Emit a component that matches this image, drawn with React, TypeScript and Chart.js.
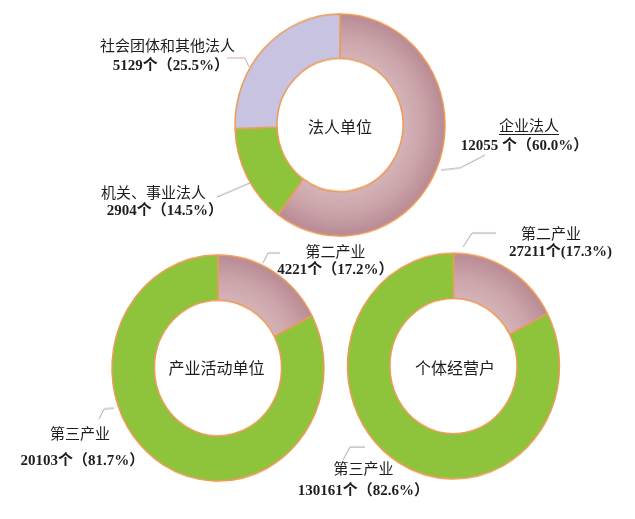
import React, { useEffect, useRef } from "react";
import { Chart, registerables } from "chart.js";

Chart.register(...registerables);

// ---------- data ----------
const titles = ["法人单位", "产业活动单位", "个体经营户"];

const legalCategories = ["企业法人", "机关、事业法人", "社会团体和其他法人"];
const legalValues = [12055, 2904, 5129];
const legalPercents = ["60.0", "14.5", "25.5"];

const industryCategories = ["第二产业", "第三产业"];
const unitValues = [4221, 20103];
const unitPercents = ["17.2", "81.7"];

const individualValues = [27211, 130161];
const individualPercents = ["17.3", "82.6"];

// ---------- styles / layout ----------
const W = 635;
const H = 519;
const MAUVE = "#c79ca3";
const GREEN = "#8ec43b";
const LAVENDER = "#c7c3e1";
const BORDER = "#ec9b57";

type Leader = { pts: number[][]; color: string };
type LabelPos = { name: [number, number]; num: [number, number]; fmt: string; underline?: boolean };

const charts = [
  {
    title: titles[0],
    labels: legalCategories,
    values: legalValues,
    percents: legalPercents,
    colors: ["mauve", GREEN, LAVENDER],
    cx: 340, cy: 125, rx: 105, sy: 1.057,
    titlePos: [340, 126],
    labelPos: [
      { name: [529, 125], num: [524.5, 145], fmt: "{v} 个（{p}%）", underline: true },
      { name: [153.5, 192], num: [165, 210], fmt: "{v}个（{p}%）" },
      { name: [167.5, 45], num: [171, 65], fmt: "{v}个（{p}%）" },
    ] as LabelPos[],
    leaders: [
      { pts: [[485, 155], [460, 168], [441, 170]], color: "#b9a3a7" },
      { pts: [[217, 197], [250, 183]], color: "#a5a5a5" },
      { pts: [[227, 58], [245, 58], [249, 67]], color: "#d6a3ad" },
    ] as Leader[],
  },
  {
    title: titles[1],
    labels: industryCategories,
    values: unitValues,
    percents: unitPercents,
    colors: ["mauve", GREEN],
    cx: 218, cy: 368, rx: 106, sy: 1.066,
    titlePos: [216.5, 367],
    labelPos: [
      { name: [335.5, 251], num: [335.5, 269], fmt: "{v}个（{p}%）" },
      { name: [80, 433], num: [82.5, 460], fmt: "{v}个（{p}%）" },
    ] as LabelPos[],
    leaders: [
      { pts: [[280, 253], [268, 253], [263, 263]], color: "#a8a8a8" },
      { pts: [[99, 419], [104, 409], [114, 408]], color: "#a8a8a8" },
    ] as Leader[],
  },
  {
    title: titles[2],
    labels: industryCategories,
    values: individualValues,
    percents: individualPercents,
    colors: ["mauve", GREEN],
    cx: 453.5, cy: 366, rx: 106, sy: 1.064,
    titlePos: [455, 367],
    labelPos: [
      { name: [551, 233], num: [560.5, 251], fmt: "{v}个({p}%)" },
      { name: [363.5, 468], num: [363.5, 490], fmt: "{v}个（{p}%）" },
    ] as LabelPos[],
    leaders: [
      { pts: [[496, 233], [472, 233], [463, 247]], color: "#a8a8a8" },
      { pts: [[343, 460], [350, 447], [365, 447]], color: "#a8a8a8" },
    ] as Leader[],
  },
];

const CN_FONT = '"Noto Sans CJK SC", "Noto Sans", sans-serif';
const NUM_FONT = '"Liberation Serif", "Noto Sans CJK SC", serif';

function Donut({ cfg }: { cfg: (typeof charts)[number] }) {
  const ref = useRef<HTMLCanvasElement | null>(null);
  useEffect(() => {
    if (!ref.current) return;
    const { cx, cy, rx, sy } = cfg;
    const box = 100;
    const leaderPlugin = {
      id: "leaders",
      afterDraw(chart: any) {
        const ctx = chart.ctx;
        ctx.save();
        ctx.lineWidth = 1;
        cfg.leaders.forEach((l) => {
          ctx.strokeStyle = l.color;
          ctx.beginPath();
          l.pts.forEach((p, i) => {
            const x = p[0];
            const y = cy + (p[1] - cy) / sy;
            if (i === 0) ctx.moveTo(x, y);
            else ctx.lineTo(x, y);
          });
          ctx.stroke();
        });
        ctx.restore();
      },
    };
    const bg = (c: any) => {
      const col = cfg.colors[c.dataIndex];
      if (col !== "mauve") return col;
      const ch = c.chart;
      const area = ch.chartArea;
      if (!area) return MAUVE;
      const x = (area.left + area.right) / 2;
      const y = (area.top + area.bottom) / 2;
      const g = ch.ctx.createRadialGradient(x, y, rx * 0.58, x, y, rx);
      g.addColorStop(0, "#d5b5b9");
      g.addColorStop(0.5, "#cba4aa");
      g.addColorStop(1, "#b98b94");
      return g;
    };
    const chart = new Chart(ref.current, {
      type: "doughnut",
      data: {
        labels: cfg.labels,
        datasets: [
          {
            data: cfg.values,
            backgroundColor: bg,
            borderColor: BORDER,
            borderWidth: 1.5,
          },
        ],
      },
      options: {
        responsive: false,
        maintainAspectRatio: false,
        animation: false,
        events: [],
        radius: rx,
        cutout: "60%",
        layout: {
          padding: {
            left: cx - box,
            right: W - cx - box,
            top: cy - box,
            bottom: H - cy - box,
          },
        },
        plugins: {
          legend: { display: false },
          tooltip: { enabled: false },
        },
      } as any,
      plugins: [leaderPlugin],
    });
    return () => chart.destroy();
  }, [cfg]);
  return (
    <canvas
      ref={ref}
      width={W}
      height={H}
      style={{
        position: "absolute",
        left: 0,
        top: 0,
        width: W,
        height: H,
        transform: `scaleY(${cfg.sy})`,
        transformOrigin: `${cfg.cx}px ${cfg.cy}px`,
        pointerEvents: "none",
      }}
    />
  );
}

function TextLine({
  x, y, text, font, weight, size, underline,
}: {
  x: number; y: number; text: string; font: string; weight?: number; size: number; underline?: boolean;
}) {
  return (
    <div
      style={{
        position: "absolute",
        left: x - 150,
        top: y - 11,
        width: 300,
        height: 22,
        lineHeight: "22px",
        textAlign: "center",
        whiteSpace: "nowrap",
        fontFamily: font,
        fontSize: size,
        fontWeight: weight ?? 400,
        color: "#1e1e1e",
      }}
    >
      <span style={{ textDecoration: underline ? "underline" : "none", textUnderlineOffset: 3 }}>{text}</span>
    </div>
  );
}

export default function App() {
  return (
    <div
      style={{
        position: "absolute",
        left: 0,
        top: 0,
        width: W,
        height: H,
        background: "#ffffff",
        overflow: "hidden",
      }}
    >
      {charts.map((c, i) => (
        <Donut key={i} cfg={c} />
      ))}
      {charts.map((c, i) => (
        <TextLine key={"t" + i} x={c.titlePos[0]} y={c.titlePos[1]} text={c.title} font={CN_FONT} size={16} />
      ))}
      {charts.map((c, i) =>
        c.labelPos.map((lp, j) => (
          <React.Fragment key={`l${i}-${j}`}>
            <TextLine x={lp.name[0]} y={lp.name[1]} text={c.labels[j]} font={CN_FONT} size={15} underline={lp.underline} />
            <TextLine
              x={lp.num[0]}
              y={lp.num[1]}
              text={lp.fmt.replace("{v}", String(c.values[j])).replace("{p}", c.percents[j])}
              font={NUM_FONT}
              weight={700}
              size={15}
            />
          </React.Fragment>
        ))
      )}
    </div>
  );
}
